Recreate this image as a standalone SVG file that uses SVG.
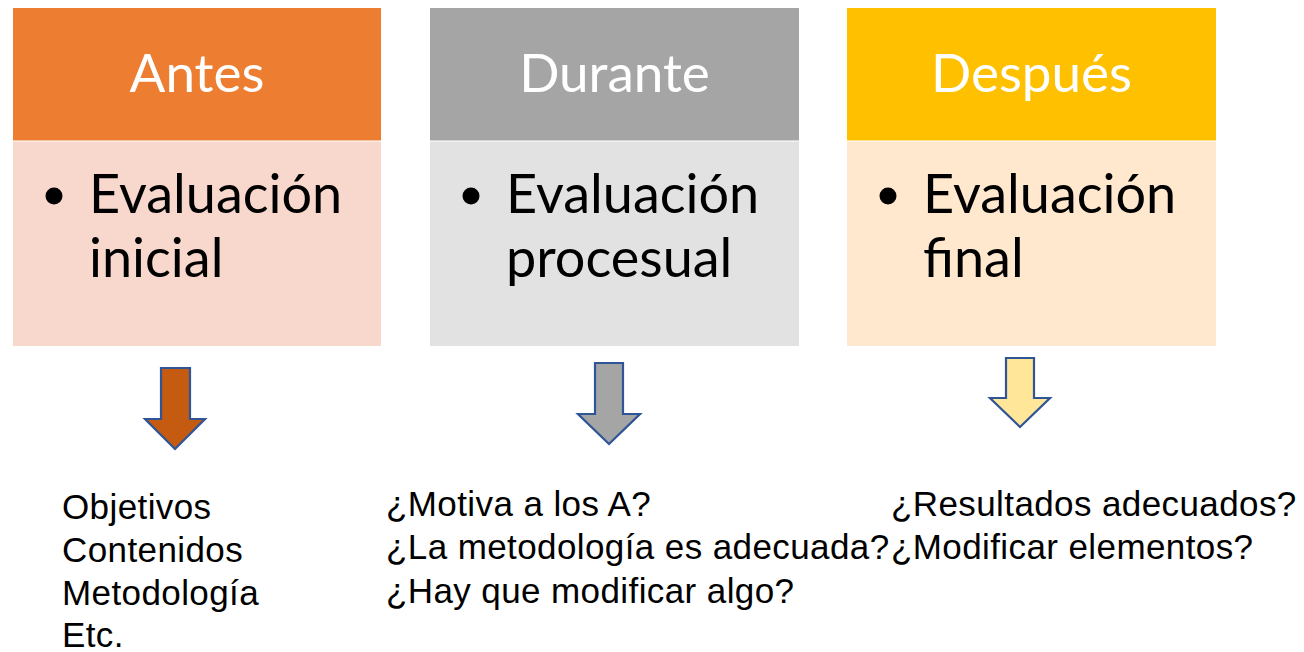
<svg xmlns="http://www.w3.org/2000/svg" width="1304" height="652" viewBox="0 0 1304 652">
<style>
.hd{font-family:Lato,"Open Sans",sans-serif;font-size:53px;fill:#fff;text-anchor:middle}
.bd{font-family:Lato,"Open Sans",sans-serif;font-size:54px;fill:#000}
.q{font-family:"Liberation Sans",Arial,sans-serif;font-size:35px;letter-spacing:0.4px;fill:#000}
.arr{stroke:#2F5597;stroke-width:2.2;stroke-linejoin:miter}
.sep{stroke:#fff;stroke-width:1.5;stroke-opacity:0.7}
</style>
<rect width="1304" height="652" fill="#fff"/>
<g id="antes">
<rect x="13" y="8" width="368" height="133" fill="#ED7D31"/>
<rect x="13" y="141" width="368" height="205" fill="#F8D7CD"/>
<line class="sep" x1="13" y1="141" x2="381" y2="141"/>
<text class="hd" x="197" y="92">Antes</text>
<circle cx="54" cy="196" r="8.5" fill="#000"/>
<text class="bd" x="89" y="213">Evaluación</text>
<text class="bd" x="89" y="277">inicial</text>
</g>
<g id="durante">
<rect x="430" y="8" width="369" height="133" fill="#A5A5A5"/>
<rect x="430" y="141" width="369" height="205" fill="#E2E2E2"/>
<line class="sep" x1="430" y1="141" x2="799" y2="141"/>
<text class="hd" x="614.5" y="92">Durante</text>
<circle cx="471" cy="196" r="8.5" fill="#000"/>
<text class="bd" x="506" y="213">Evaluación</text>
<text class="bd" x="506" y="277">procesual</text>
</g>
<g id="despues">
<rect x="847" y="8" width="369" height="133" fill="#FFC000"/>
<rect x="847" y="141" width="369" height="205" fill="#FFE8CE"/>
<line class="sep" x1="847" y1="141" x2="1216" y2="141"/>
<text class="hd" x="1031.5" y="92">Después</text>
<circle cx="888" cy="196" r="8.5" fill="#000"/>
<text class="bd" x="923" y="213">Evaluación</text>
<text class="bd" x="923" y="277">final</text>
</g>
<g id="connectors">
<polygon class="arr" fill="#C55A11" points="161,368 190,368 190,419 205,419 175,449 145,419 161,419"/>
<polygon class="arr" fill="#A5A5A5" points="595,363 623,363 623,414 640,414 609,444 578,414 595,414"/>
<polygon class="arr" fill="#FFE699" points="1006,358 1034,358 1034,398 1050,398 1020,427 990,398 1006,398"/>
</g>
<g id="lista-antes">
<text class="q" x="62" y="519">Objetivos</text>
<text class="q" x="62" y="562">Contenidos</text>
<text class="q" x="62" y="605">Metodología</text>
<text class="q" x="62" y="647">Etc.</text>
</g>
<g id="lista-durante">
<text class="q" x="386" y="516">¿Motiva a los A?</text>
<text class="q" x="386" y="559">¿La metodología es adecuada?</text>
<text class="q" x="386" y="603">¿Hay que modificar algo?</text>
</g>
<g id="lista-despues">
<text class="q" x="891" y="516">¿Resultados adecuados?</text>
<text class="q" x="891" y="559">¿Modificar elementos?</text>
</g>
</svg>
